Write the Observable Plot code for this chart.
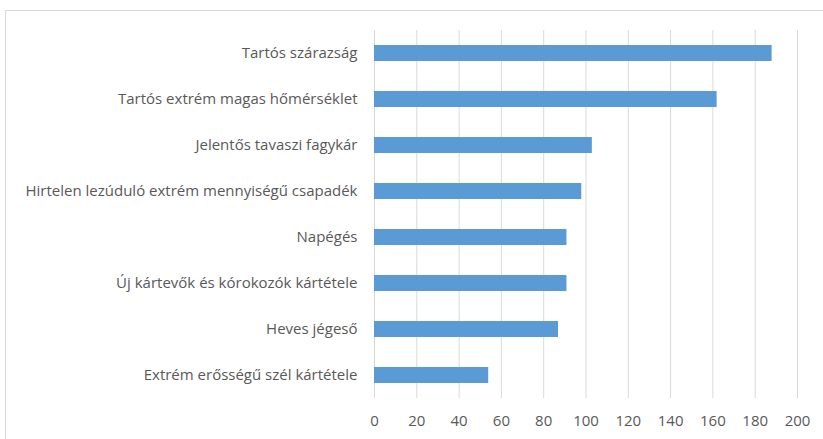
<!DOCTYPE html>
<html>
<head>
<meta charset="utf-8">
<script src="https://cdn.jsdelivr.net/npm/d3@7"></script>
<script src="https://cdn.jsdelivr.net/npm/@observablehq/plot@0.6"></script>
<style>
  html, body { margin: 0; padding: 0; background: #fff; }
  #wrap { position: relative; width: 823px; height: 439px; overflow: hidden; }
  #frame { position: absolute; left: 5px; top: 10px; width: 830px; height: 440px; border: 1px solid #d9d9d9; box-sizing: border-box; }
  #chart { position: absolute; left: 0; top: 0; }
</style>
</head>
<body>
<div id="wrap"><div id="frame"></div><div id="chart"></div></div>
<script>
const categories = [
  "Tartós szárazság",
  "Tartós extrém magas hőmérséklet",
  "Jelentős tavaszi fagykár",
  "Hirtelen lezúduló extrém mennyiségű csapadék",
  "Napégés",
  "Új kártevők és kórokozók kártétele",
  "Heves jégeső",
  "Extrém erősségű szél kártétele"
];
const values = [188, 162, 103, 98, 91, 91, 87, 54];
const xTicks = [0, 20, 40, 60, 80, 100, 120, 140, 160, 180, 200];

const data = categories.map((c, i) => ({category: c, value: values[i]}));

const chart = Plot.plot({
  width: 823,
  height: 439,
  marginLeft: 374,
  marginRight: 26,
  marginTop: 30,
  marginBottom: 41,
  style: {fontFamily: "'Open Sans', sans-serif", fontSize: "15px", color: "#595959", background: "transparent"},
  x: {domain: [0, 200], ticks: xTicks, label: null, tickSize: 0, tickPadding: 17},
  y: {domain: categories, label: null, tickSize: 0, tickPadding: 17, paddingInner: 0.652, paddingOuter: 0.326},
  marks: [
    Plot.gridX(xTicks, {stroke: "#d9d9d9", strokeOpacity: 1, strokeWidth: 1}),
    Plot.barX(data, {x: "value", y: "category", fill: "#5b9bd5"})
  ]
});
document.getElementById("chart").appendChild(chart);
</script>
</body>
</html>
